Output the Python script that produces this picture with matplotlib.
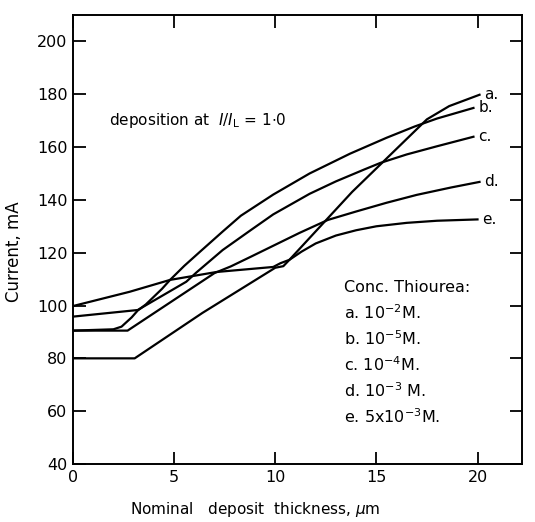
import matplotlib
matplotlib.use("Agg")
import matplotlib.pyplot as plt

# curve data (thickness in um, current in mA)
a_x = [0, 3.05, 6.4, 10.0, 10.4, 10.7, 13.8, 17.5, 18.6, 20.1]
a_y = [80, 80, 97.2, 114.3, 114.9, 117.3, 143.0, 170.5, 175.5, 179.8]

b_x = [0, 2.0, 2.4, 2.9, 3.2, 3.6, 4.4, 4.8, 5.5, 6.3, 7.4, 8.3, 9.9, 11.7, 13.7, 15.5, 16.9, 18.0, 19.8]
b_y = [90.5, 91, 92, 95.5, 98.1, 100.4, 106.3, 109.7, 115, 120.5, 128, 134, 142, 150, 157.5, 163.5, 167.8, 170.8, 174.8]

c_x = [0, 3.2, 5.6, 6.1, 7.4, 8.8, 9.9, 11.7, 13.0, 14.4, 15.2, 16.5, 18.0, 19.8]
c_y = [95.8, 98.3, 109, 112.5, 121, 128.6, 134.5, 142.3, 147, 151.5, 154, 157.2, 160.3, 163.9]

d_x = [0, 2.7, 7.0, 7.8, 8.8, 10.0, 11.2, 12.6, 14.0, 15.5, 17.0, 18.7, 20.1]
d_y = [90.5, 90.5, 112.3, 114.8, 118.5, 123, 127.5, 132.4, 135.6, 138.9, 141.9, 144.7, 146.8]

e_x = [0, 2.8, 4.8, 7.1, 9.9, 10.25, 10.7, 11.3, 12.0, 13.0, 14.0, 15.0, 16.5, 18.0, 20.0]
e_y = [99.8, 105.2, 109.7, 112.7, 114.6, 116.0, 117.3, 120.4, 123.5, 126.5, 128.5, 130.0, 131.3, 132.1, 132.6]

curve_labels = ["a.", "b.", "c.", "d.", "e."]
legend_lines = [
    "Conc. Thiourea:",
    r"a. 10$^{-2}$M.",
    r"b. 10$^{-5}$M.",
    r"c. 10$^{-4}$M.",
    r"d. 10$^{-3}$ M.",
    r"e. 5x10$^{-3}$M.",
]

fig = plt.figure(figsize=(5.35, 5.22), dpi=100)
ax = fig.add_axes([0.1364, 0.1111, 0.8393, 0.8602])

curves = [(a_x, a_y), (b_x, b_y), (c_x, c_y), (d_x, d_y), (e_x, e_y)]
for (xs, ys), lab in zip(curves, curve_labels):
    ax.plot(xs, ys, color="black", lw=1.6, solid_joinstyle="round")
    ax.text(xs[-1] + 0.25, ys[-1], lab, fontsize=11, va="center", ha="left")

ax.set_xlim(0, 22.2)
ax.set_ylim(40, 210)
ax.set_xticks([0, 5, 10, 15, 20])
ax.set_yticks([40, 60, 80, 100, 120, 140, 160, 180, 200])
ax.tick_params(direction="in", length=9, width=1.3, top=True, right=True,
               labelsize=11.5, pad=4)
for sp in ax.spines.values():
    sp.set_linewidth(1.4)

ax.text(1.8, 168.5, r"deposition at  $I/I_\mathrm{L}$ = 1$\cdot$0",
        fontsize=11, va="baseline", ha="left")

legend_y = [105.2, 94.9, 85.1, 75.2, 65.4, 55.5]
for txt, yy in zip(legend_lines, legend_y):
    ax.text(13.4, yy, txt, fontsize=11.5, va="baseline", ha="left")

ax.set_xlabel(r"Nominal   deposit  thickness, $\mu$m", fontsize=11)
ax.xaxis.set_label_coords(0.405, -0.08)
ax.set_ylabel("Current, mA", fontsize=12)
ax.yaxis.set_label_coords(-0.112, 0.472)

fig.savefig("out.png", dpi=100)
